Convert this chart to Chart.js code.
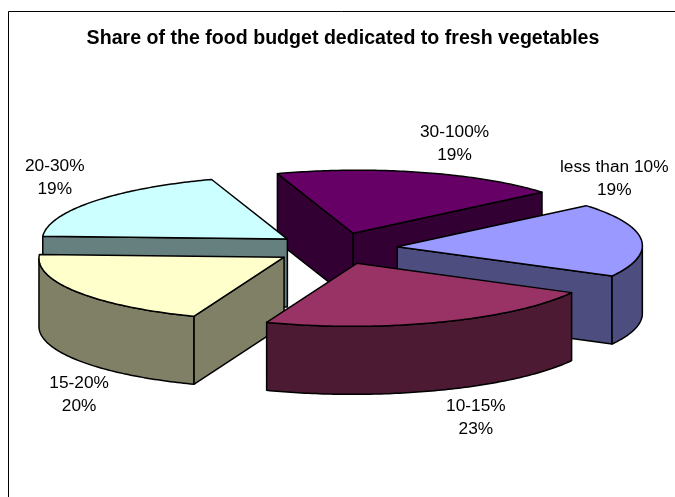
<!DOCTYPE html>
<html>
<head>
<meta charset="utf-8">
<title>Food budget share</title>
<script src="https://cdn.jsdelivr.net/npm/chart.js@4/dist/chart.umd.min.js"></script>
<style>
  html, body { margin: 0; padding: 0; background: #fff; }
  canvas { display: block; }
</style>
</head>
<body>
<canvas id="budgetChart" width="675" height="497"></canvas>
<script>
const categories = ['less than 10%', '10-15%', '15-20%', '20-30%', '30-100%'];
const shares = [19, 23, 20, 19, 19];
const topColors = ['#9999FF', '#993366', '#FFFFCC', '#CCFFFF', '#660066'];
const sideColors = ['#4D4D80', '#4D1A33', '#808066', '#668080', '#330033'];

// tilted view of the pie plane, depth of the extrusion in px
const view = { shiftX: -7, scaleY: 0.257, shear: 0.028, skew: -0.012, depth: 68 };
// where each label sits relative to the outer middle of its slice
const labelNudges = [[-27, -61], [36, 96], [2, 103], [-39, -24], [33, -29]];
const edgeColor = '#000';
const labelFont = '17.3px "Liberation Sans", Arial, sans-serif';

function project(arc, angle, radius, lift) {
    const cos = Math.cos(angle), sin = Math.sin(angle);
    const mid = (arc.startAngle + arc.endAngle) / 2;
    const px = radius * cos + arc.options.offset * Math.cos(mid);
    const py = radius * sin + arc.options.offset * Math.sin(mid);
    return {
        x: arc.x + view.shiftX + px + view.shear * py,
        y: arc.y + view.scaleY * py + view.skew * px + lift
    };
}

function fillShape(ctx, points, color) {
    ctx.beginPath();
    points.forEach(function (p, i) {
        if (i === 0) ctx.moveTo(p.x, p.y);
        else ctx.lineTo(p.x, p.y);
    });
    ctx.closePath();
    ctx.fillStyle = color;
    ctx.fill();
    ctx.stroke();
}

function rimPoints(arc, from, to, lift) {
    const points = [];
    const steps = Math.max(2, Math.ceil((to - from) / 0.015));
    for (let i = 0; i <= steps; i++) {
        points.push(project(arc, from + (to - from) * i / steps, arc.outerRadius, lift));
    }
    return points;
}

function radialWall(ctx, arc, angle, color) {
    const mid = (arc.startAngle + arc.endAngle) / 2;
    const apex = project(arc, 0, 0, 0);
    const edge = project(arc, angle, arc.outerRadius, 0);
    const inner = project(arc, mid, arc.outerRadius, 0);
    const dx = edge.x - apex.x, dy = edge.y - apex.y;
    const cross = dx * (inner.y - apex.y) - dy * (inner.x - apex.x);
    // only walls facing the viewer are painted
    if (cross * dx >= 0) return;
    fillShape(ctx, [apex, edge, project(arc, angle, arc.outerRadius, view.depth), project(arc, 0, 0, view.depth)], color);
}

function rimWall(ctx, arc, color) {
    // the rim shows between the two points where the ellipse turns back
    const turn = Math.atan2(view.shear, 1);
    let from = arc.startAngle, to = arc.endAngle;
    while (from > Math.PI + turn) { from -= 2 * Math.PI; to -= 2 * Math.PI; }
    while (to < turn) { from += 2 * Math.PI; to += 2 * Math.PI; }
    from = Math.max(from, turn);
    to = Math.min(to, Math.PI + turn);
    if (to <= from) return;
    const upper = rimPoints(arc, from, to, 0);
    const lower = rimPoints(arc, from, to, view.depth).reverse();
    fillShape(ctx, upper.concat(lower), color);
}

const extrudedPie = {
    id: 'extrudedPie',
    beforeDatasetDraw(chart, args) {
        const ctx = chart.ctx;
        const arcs = chart.getDatasetMeta(args.index).data.map(function (arc, i) {
            return { arc: arc, i: i, depth: Math.sin((arc.startAngle + arc.endAngle) / 2) };
        });
        arcs.sort(function (a, b) { return a.depth - b.depth; });

        ctx.save();
        ctx.strokeStyle = edgeColor;
        ctx.lineWidth = 1.5;
        ctx.lineJoin = 'round';
        arcs.forEach(function (item) {
            const arc = item.arc;
            const side = sideColors[item.i];
            radialWall(ctx, arc, arc.startAngle, side);
            radialWall(ctx, arc, arc.endAngle, side);
            rimWall(ctx, arc, side);
            const top = rimPoints(arc, arc.startAngle, arc.endAngle, 0);
            top.unshift(project(arc, 0, 0, 0));
            fillShape(ctx, top, topColors[item.i]);
        });
        ctx.restore();
        return false;
    },
    afterDatasetsDraw(chart) {
        const ctx = chart.ctx;
        ctx.save();
        ctx.font = labelFont;
        ctx.fillStyle = '#000';
        ctx.textAlign = 'center';
        ctx.textBaseline = 'middle';
        chart.getDatasetMeta(0).data.forEach(function (arc, i) {
            const mid = (arc.startAngle + arc.endAngle) / 2;
            const p = project(arc, mid, arc.outerRadius, 0);
            const x = p.x + labelNudges[i][0];
            const y = p.y + labelNudges[i][1];
            ctx.fillText(categories[i], x, y - 11.5);
            ctx.fillText(shares[i] + '%', x, y + 11.5);
        });
        ctx.restore();
    }
};

// the frame only runs along the top and left of the sheet
const sheetFrame = {
    id: 'sheetFrame',
    beforeDraw(chart) {
        const ctx = chart.ctx;
        ctx.save();
        ctx.strokeStyle = '#000';
        ctx.lineWidth = 1;
        ctx.beginPath();
        ctx.moveTo(8.5, chart.height);
        ctx.lineTo(8.5, 11.5);
        ctx.lineTo(chart.width, 11.5);
        ctx.stroke();
        ctx.restore();
    }
};

new Chart(document.getElementById('budgetChart').getContext('2d'), {
    type: 'pie',
    data: {
        labels: categories,
        datasets: [{
            data: shares,
            backgroundColor: topColors,
            offset: 61.5
        }]
    },
    options: {
        responsive: false,
        animation: false,
        rotation: 52,
        radius: 245,
        layout: { padding: { left: 11, top: 0, right: 0, bottom: 60 } },
        plugins: {
            legend: { display: false },
            tooltip: { enabled: false },
            title: {
                display: true,
                text: 'Share of the food budget dedicated to fresh vegetables',
                color: '#000',
                font: { family: '"Liberation Sans", Arial, sans-serif', size: 19.6, weight: 'bold' },
                padding: { top: 26.5, bottom: 10 }
            }
        }
    },
    plugins: [sheetFrame, extrudedPie]
});
</script>
</body>
</html>
